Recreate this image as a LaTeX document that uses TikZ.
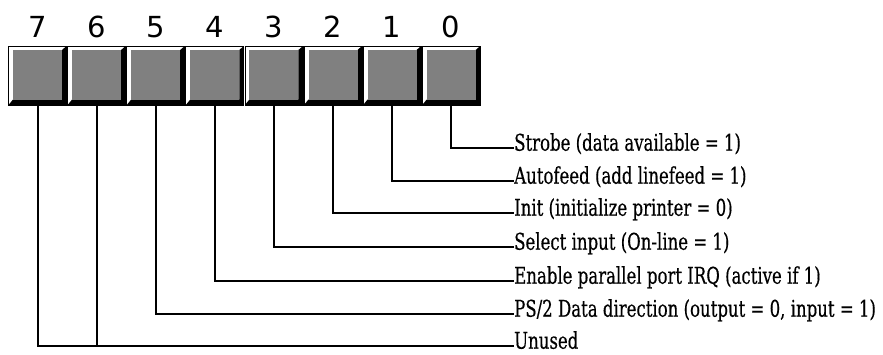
\documentclass[tikz,border=0pt]{standalone}
\usepackage{fontspec}
\usepackage{xcolor}
\newfontfamily\labelfont[FakeStretch=0.8,FakeBold=0.4]{DejaVu Serif Condensed}
\newfontfamily\digitfont{DejaVu Sans}
\definecolor{boxgray}{RGB}{128,128,128}
\tikzset{
  bitbox/.style={draw=black,line width=0.7pt,fill=white,minimum width=58pt,minimum height=59pt,inner sep=0pt,
    path picture={
      \fill[black] (path picture bounding box.south west)
        -- ([shift={(4.5pt,5.5pt)}]path picture bounding box.south west)
        -- ([shift={(-4.5pt,5.5pt)}]path picture bounding box.south east)
        -- ([shift={(-4.5pt,-4pt)}]path picture bounding box.north east)
        -- (path picture bounding box.north east)
        -- (path picture bounding box.south east) -- cycle;
      \fill[boxgray] ([shift={(4.5pt,5.5pt)}]path picture bounding box.south west)
        rectangle ([shift={(-4.5pt,-4pt)}]path picture bounding box.north east);
    }},
  bitnum/.style={font=\digitfont\fontsize{29}{29}\selectfont,anchor=base,inner sep=0pt},
  bitlabel/.style={font=\labelfont\fontsize{23}{23}\selectfont,anchor=west,inner sep=1pt,text height=0.76em,text depth=0.22em},
  wire/.style={line width=2pt,line cap=rect}
}
\begin{document}
\begin{tikzpicture}[x=1pt,y=-1pt]
\useasboundingbox (0,0) rectangle (883,354);
\node[bitbox] (b7) at (37.5,75.5) {};
\node[bitbox] (b6) at (96.6,75.5) {};
\node[bitbox] (b5) at (155.7,75.5) {};
\node[bitbox] (b4) at (214.8,75.5) {};
\node[bitbox] (b3) at (273.9,75.5) {};
\node[bitbox] (b2) at (333,75.5) {};
\node[bitbox] (b1) at (392.1,75.5) {};
\node[bitbox] (b0) at (451.2,75.5) {};
\node[bitnum] (d7) at (38,37) {7};
\node[bitnum] (d6) at (96.6,37) {6};
\node[bitnum] (d5) at (155.7,37) {5};
\node[bitnum] (d4) at (214.8,37) {4};
\node[bitnum] (d3) at (273.9,37) {3};
\node[bitnum] (d2) at (333,37) {2};
\node[bitnum] (d1) at (392.1,37) {1};
\node[bitnum] (d0) at (451.2,37) {0};
\node[bitlabel] (strobe) at (513,148) {Strobe (data available = 1)};
\node[bitlabel] (autofeed) at (513,181) {Autofeed (add linefeed = 1)};
\node[bitlabel] (init) at (513,213) {Init (initialize printer = 0)};
\node[bitlabel] (select) at (513,247) {Select input (On-line = 1)};
\node[bitlabel] (irq) at (513,281) {Enable parallel port IRQ (active if 1)};
\node[bitlabel] (dir) at (513,314) {PS/2 Data direction (output = 0, input = 1)};
\node[bitlabel] (unused) at (513,346) {Unused};
\draw[wire] (b0.south) |- (strobe.west);
\draw[wire] (b1.south) |- (autofeed.west);
\draw[wire] (b2.south) |- (init.west);
\draw[wire] (b3.south) |- (select.west);
\draw[wire] (b4.south) |- (irq.west);
\draw[wire] (b5.south) |- (dir.west);
\draw[wire] (b6.south) -- (b6.south |- unused.west);
\draw[wire] (b7.south) |- (unused.west);
\end{tikzpicture}
\end{document}
